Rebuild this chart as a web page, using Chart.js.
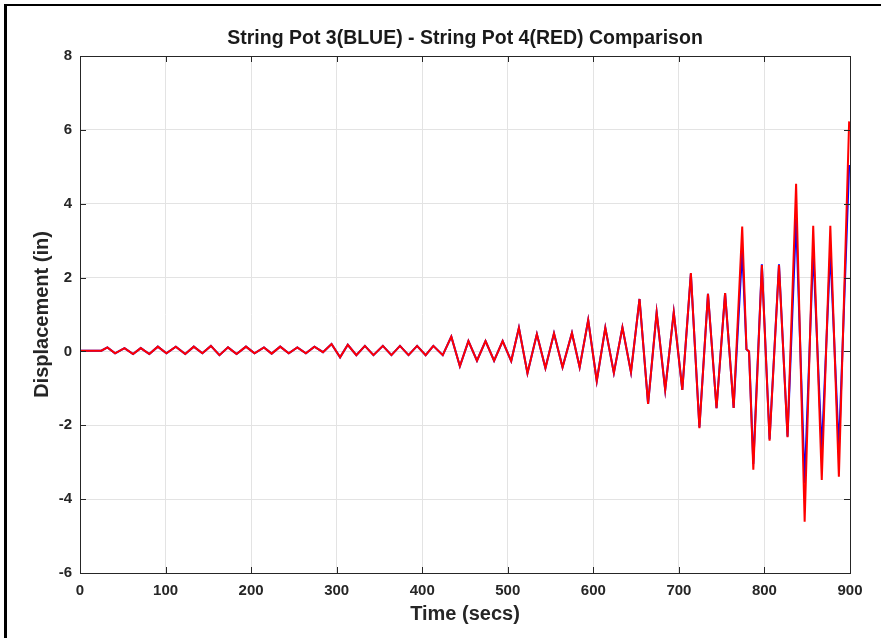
<!DOCTYPE html>
<html>
<head>
<meta charset="utf-8">
<script src="https://cdn.jsdelivr.net/npm/chart.js@4/dist/chart.umd.min.js"></script>
<style>
  html, body { margin: 0; padding: 0; background: #fff; }
  #wrap { width: 881px; height: 638px; }
</style>
</head>
<body>
<div id="wrap"><canvas id="potChart" width="881" height="638"></canvas></div>
<script>
// time of each turning point (secs)
var times = [0, 25, 32, 41, 52, 62, 71, 81, 91, 101, 112, 123, 133, 143, 153, 163, 173, 183, 194, 204,
  215, 224, 234, 244, 254, 264, 274, 284, 294, 304, 313, 323, 333, 343, 354, 364, 374, 384, 394, 404,
  413, 424, 434, 444, 454, 464, 474, 484, 494, 504, 513, 523, 534, 544, 554, 564, 575, 584, 594, 604,
  614, 624, 634, 644, 654, 664, 674, 684, 694, 704, 714, 724, 734, 744, 754, 764, 774, 779, 782, 787,
  797, 806, 817, 827, 837, 847, 857, 867, 877, 887, 899];

// string pot 3 (blue)
var pot3 = [0.02, 0.02, 0.11, -0.05, 0.09, -0.07, 0.09, -0.07, 0.13, -0.05, 0.13, -0.07, 0.13, -0.05, 0.15, -0.1, 0.11, -0.07, 0.13, -0.05,
  0.11, -0.06, 0.13, -0.05, 0.11, -0.05, 0.13, -0.02, 0.2, -0.16, 0.18, -0.1, 0.15, -0.1, 0.15, -0.1, 0.15, -0.1, 0.15, -0.1,
  0.15, -0.1, 0.4, -0.4, 0.28, -0.25, 0.28, -0.25, 0.28, -0.26, 0.64, -0.59, 0.47, -0.45, 0.49, -0.43, 0.5, -0.43, 0.85, -0.8,
  0.64, -0.58, 0.65, -0.56, 1.42, -1.42, 1.06, -1.04, 1.06, -1.04, 2.1, -2.05, 1.56, -1.54, 1.58, -1.53, 2.75, 0.06, 0, -3.05,
  2.36, -2.38, 2.36, -2.3, 3.6, -3.57, 2.75, -2.7, 2.75, -2.67, 5.05];

// string pot 4 (red)
var pot4 = [0.02, 0.02, 0.11, -0.05, 0.09, -0.07, 0.09, -0.07, 0.13, -0.05, 0.13, -0.07, 0.13, -0.05, 0.15, -0.1, 0.11, -0.07, 0.13, -0.05,
  0.11, -0.06, 0.13, -0.05, 0.11, -0.05, 0.13, -0.02, 0.2, -0.16, 0.18, -0.1, 0.15, -0.1, 0.15, -0.1, 0.15, -0.1, 0.15, -0.1,
  0.15, -0.1, 0.4, -0.4, 0.28, -0.25, 0.28, -0.25, 0.28, -0.26, 0.64, -0.59, 0.47, -0.45, 0.49, -0.43, 0.5, -0.43, 0.85, -0.8,
  0.64, -0.58, 0.65, -0.56, 1.42, -1.42, 1.06, -1.04, 1.06, -1.04, 2.12, -2.08, 1.56, -1.54, 1.58, -1.53, 3.38, 0.06, 0, -3.2,
  2.34, -2.42, 2.34, -2.32, 4.54, -4.61, 3.4, -3.48, 3.4, -3.39, 6.23];

var xMin = 0, xMax = 900, xStep = 100;
var yMin = -6, yMax = 8, yStep = 2;
var chartTitle = 'String Pot 3(BLUE) - String Pot 4(RED) Comparison';

function toPoints(vals) {
  return times.map(function (t, i) { return { x: t, y: vals[i] }; });
}

var fontFamily = 'Liberation Sans, Arial, sans-serif';
var tickFont = { family: fontFamily, size: 15, weight: 'bold' };
var titleFont = { family: fontFamily, size: 20, weight: 'bold' };

// outer frame, title over the axes, axes box and inward tick marks (matlab style)
var boxPlugin = {
  id: 'box',
  beforeDraw: function (chart) {
    var ctx = chart.ctx;
    ctx.save();
    ctx.fillStyle = '#fff';
    ctx.fillRect(0, 0, chart.width, chart.height);
    ctx.fillStyle = '#000';
    ctx.fillRect(4, 4, chart.width - 4, 2);
    ctx.fillRect(4, 4, 3, chart.height - 4);
    ctx.restore();
  },
  afterDraw: function (chart) {
    var ctx = chart.ctx, a = chart.chartArea;
    var xs = chart.scales.x, ys = chart.scales.y;
    ctx.save();
    ctx.fillStyle = '#1a1a1a';
    ctx.font = 'bold 19.5px ' + fontFamily;
    ctx.textAlign = 'center';
    ctx.textBaseline = 'middle';
    ctx.fillText(chartTitle, (a.left + a.right) / 2, 39);

    ctx.strokeStyle = '#262626';
    ctx.lineWidth = 1;
    ctx.beginPath();
    xs.ticks.forEach(function (t) {
      var px = Math.round(xs.getPixelForValue(t.value)) + 0.5;
      ctx.moveTo(px, a.bottom); ctx.lineTo(px, a.bottom - 6);
      ctx.moveTo(px, a.top); ctx.lineTo(px, a.top + 6);
    });
    ys.ticks.forEach(function (t) {
      var py = Math.round(ys.getPixelForValue(t.value)) + 0.5;
      ctx.moveTo(a.left, py); ctx.lineTo(a.left + 6, py);
      ctx.moveTo(a.right, py); ctx.lineTo(a.right - 6, py);
    });
    ctx.stroke();
    ctx.strokeRect(Math.round(a.left) + 0.5, Math.round(a.top) + 0.5,
      Math.round(a.right - a.left), Math.round(a.bottom - a.top));
    ctx.restore();
  }
};

var potCanvas = document.getElementById('potChart');
var potChart = new Chart(potCanvas, {
  type: 'line',
  data: {
    datasets: [{
      label: 'String Pot 4',
      data: toPoints(pot4),
      borderColor: '#ff0000',
      borderWidth: 2,
      order: 0
    }, {
      label: 'String Pot 3',
      data: toPoints(pot3),
      borderColor: '#0000ff',
      borderWidth: 2,
      order: 1
    }]
  },
  plugins: [boxPlugin],
  options: {
    responsive: false,
    animation: false,
    parsing: false,
    elements: {
      point: { radius: 0 },
      line: { tension: 0, fill: false, borderJoinStyle: 'miter' }
    },
    layout: { padding: { top: 56, right: 31, bottom: 0, left: 0 } },
    plugins: {
      legend: { display: false },
      tooltip: { enabled: false },
      title: { display: false }
    },
    scales: {
      x: {
        type: 'linear',
        min: xMin,
        max: xMax,
        ticks: { stepSize: xStep, color: '#262626', font: tickFont, padding: 9, maxRotation: 0 },
        grid: { color: '#e3e3e3', drawTicks: false },
        border: { display: false },
        title: { display: true, text: 'Time (secs)', color: '#262626', font: titleFont, padding: { top: 0, bottom: 12 } },
        afterFit: function (scale) { scale.height = 65; }
      },
      y: {
        type: 'linear',
        min: yMin,
        max: yMax,
        ticks: { stepSize: yStep, color: '#262626', font: tickFont, padding: 8 },
        grid: { color: '#e3e3e3', drawTicks: false },
        border: { display: false },
        title: { display: true, text: 'Displacement (in)', color: '#262626', font: titleFont, padding: { top: 30, bottom: 0 } },
        afterFit: function (scale) { scale.width = 80; }
      }
    }
  }
});
</script>
</body>
</html>
